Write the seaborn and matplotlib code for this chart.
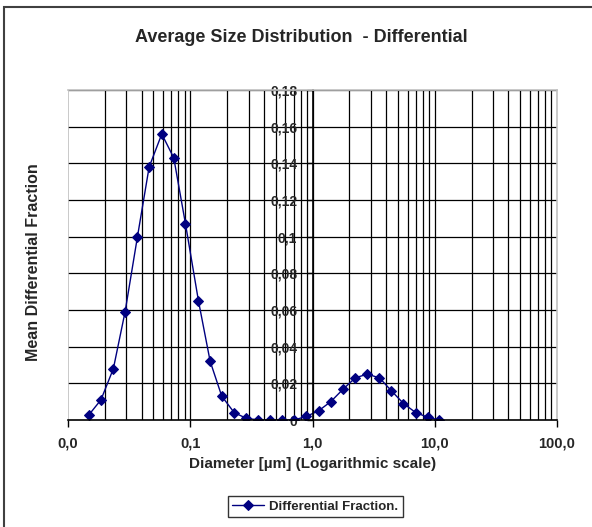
import matplotlib
matplotlib.use("Agg")
import matplotlib.pyplot as plt
from matplotlib.patches import Rectangle
from matplotlib.ticker import FixedLocator, NullLocator
import seaborn as sns
import pandas as pd

# Particle size distribution (differential fraction vs. diameter in µm)
diameter = [0.0149, 0.0186, 0.0235, 0.0293, 0.037, 0.0461, 0.0585, 0.0733,
            0.0914, 0.1167, 0.1455, 0.181, 0.229, 0.286, 0.361, 0.453, 0.568,
            0.708, 0.893, 1.12, 1.41, 1.79, 2.24, 2.80, 3.53, 4.41, 5.55,
            7.0, 8.79, 10.9]
fraction = [0.003, 0.011, 0.028, 0.059, 0.100, 0.138, 0.156, 0.143, 0.107,
            0.065, 0.032, 0.013, 0.004, 0.001, 0.0, 0.0, 0.0, 0.0, 0.002,
            0.005, 0.010, 0.017, 0.023, 0.025, 0.023, 0.016, 0.009, 0.004,
            0.0015, 0.0]

x_ticks = [0.01, 0.1, 1, 10, 100]
x_tick_labels = ["0,0", "0,1", "1,0", "10,0", "100,0"]
y_ticks = [0, 0.02, 0.04, 0.06, 0.08, 0.1, 0.12, 0.14, 0.16, 0.18]
y_tick_labels = ["0", "0,02", "0,04", "0,06", "0,08", "0,1", "0,12", "0,14",
                 "0,16", "0,18"]

df = pd.DataFrame({"Diameter": diameter, "Fraction": fraction})

sns.set_style("white")
plt.rcParams["font.family"] = ["Liberation Sans", "DejaVu Sans"]
plt.rcParams["font.weight"] = "bold"

W, H = 592, 527
fig = plt.figure(figsize=(W / 100, H / 100), dpi=100)
ax = fig.add_axes([68 / W, 1 - 420 / H, (557 - 68) / W, (420 - 90) / H])

navy = "#000080"
sns.lineplot(data=df, x="Diameter", y="Fraction", ax=ax, color=navy,
             linewidth=1.0, marker="D", markersize=5, markeredgecolor=navy,
             markerfacecolor=navy, label="Differential Fraction.",
             legend=False)

ax.set_xscale("log")
ax.set_xlim(0.01, 100)
ax.set_ylim(0, 0.18)

# grid: every log minor step vertically, every 0.02 horizontally
minor_x = [m * 10.0 ** e for e in (-2, -1, 0, 1) for m in range(1, 10)]
for xv in minor_x:
    if xv > 0.01:
        ax.axvline(xv, color="black", lw=0.9, zorder=0.5)
for yv in y_ticks[1:]:
    ax.axhline(yv, color="black", lw=0.9, zorder=0.5)
ax.axvline(0.01, color="#c0c0c0", lw=1.2, zorder=0.6)

ax.xaxis.set_major_locator(FixedLocator(x_ticks))
ax.xaxis.set_minor_locator(NullLocator())
ax.set_xticklabels(x_tick_labels, fontsize=10.5, fontweight="bold")
ax.yaxis.set_major_locator(FixedLocator(y_ticks))
ax.set_yticklabels(y_tick_labels, fontsize=10.5, fontweight="bold")
ax.tick_params(axis="x", direction="out", length=5, width=1, pad=7,
               bottom=True, color="black")
ax.tick_params(axis="y", direction="out", length=4, width=1, pad=7,
               left=True, color="black")

for side in ("top", "right"):
    ax.spines[side].set_color("#c0c0c0")
    ax.spines[side].set_linewidth(1.2)
ax.spines["bottom"].set_color("black")
ax.spines["bottom"].set_linewidth(1.2)
ax.spines["left"].set_position(("data", 1.0))
ax.spines["left"].set_color("black")
ax.spines["left"].set_linewidth(1.2)

ax.set_xlabel("Diameter [µm] (Logarithmic scale)", fontsize=11,
              fontweight="bold")
ax.xaxis.set_label_coords(0.501, -0.112)
ax.set_ylabel("Mean Differential Fraction", fontsize=11.5, fontweight="bold")
ax.yaxis.set_label_coords(-0.055, 0.479)

fig.text(301 / W, 1 - 37 / H, "Average Size Distribution  - Differential",
         ha="center", va="center", fontsize=13, fontweight="bold")

leg = ax.legend(loc="center", bbox_to_anchor=(315.5 / W, 1 - 506.5 / H),
                bbox_transform=fig.transFigure, frameon=True, fancybox=False,
                edgecolor="black", prop={"size": 9.5, "weight": "bold"},
                handlelength=2.4, borderpad=0.35, handletextpad=0.4)
leg.get_frame().set_linewidth(1.0)

# chart area border
fig.patches.append(Rectangle((4 / W, -0.05), 1.1, 1 - 7 / H + 0.05,
                             transform=fig.transFigure, fill=False,
                             edgecolor="#404040", linewidth=1.5))

fig.savefig("out.png", dpi=100)
